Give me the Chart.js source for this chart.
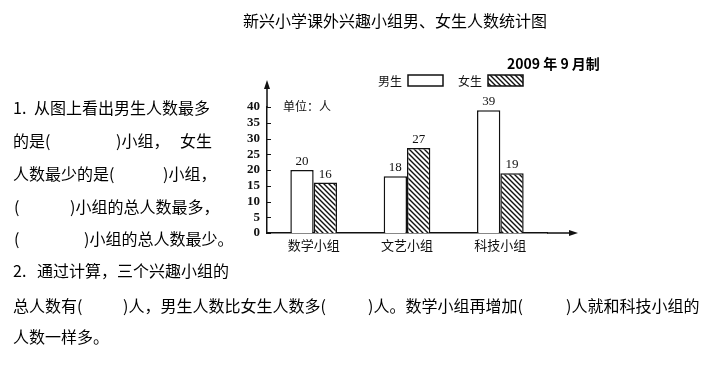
<!DOCTYPE html>
<html>
<head>
  <meta charset="utf-8">
  <title>新兴小学课外兴趣小组男、女生人数统计图</title>
  <script src="https://cdn.jsdelivr.net/npm/chart.js"></script>
  <style>
    body { margin: 0; background: #fff; }
    #wrap { position: relative; width: 715px; height: 388px; overflow: hidden; }
    #chart { position: absolute; left: 0; top: 0; }
    .t { position: absolute; font-family: "Noto Sans CJK SC", sans-serif; font-size: 16px;
         line-height: 16px; color: #000; white-space: pre; }
  </style>
</head>
<body>
<div id="wrap">
  <canvas id="chart" width="715" height="388"></canvas>

  <div class="t" style="left:243px; top:12px;">新兴小学课外兴趣小组男、女生人数统计图</div>
  <div class="t" style="left:507px; top:55px; font-size:14px; font-weight:bold;">2009 年 9 月制</div>

  <div class="t" style="left:13px; top:99px;">1.</div>
  <div class="t" style="left:34px; top:99px;">从图上看出男生人数最多</div>

  <div class="t" style="left:13px; top:132px;">的是(</div>
  <div class="t" style="left:116px; top:132px;">)小组，</div>
  <div class="t" style="left:180px; top:132px;">女生</div>

  <div class="t" style="left:13px; top:165px;">人数最少的是(</div>
  <div class="t" style="left:163px; top:165px;">)小组，</div>

  <div class="t" style="left:14px; top:198px;">(</div>
  <div class="t" style="left:70px; top:198px;">)小组的总人数最多，</div>

  <div class="t" style="left:14px; top:230px;">(</div>
  <div class="t" style="left:84px; top:230px;">)小组的总人数最少。</div>

  <div class="t" style="left:13px; top:262px;">2.</div>
  <div class="t" style="left:37px; top:262px;">通过计算，三个兴趣小组的</div>

  <div class="t" style="left:13px; top:297px;">总人数有(</div>
  <div class="t" style="left:123px; top:297px;">)人，男生人数比女生人数多(</div>
  <div class="t" style="left:368px; top:297px;">)人。数学小组再增加(</div>
  <div class="t" style="left:566px; top:297px;">)人就和科技小组的</div>

  <div class="t" style="left:13px; top:328px;">人数一样多。</div>
</div>

<script>
  // 数据
  const groups = ['数学小组', '文艺小组', '科技小组'];
  const boys = [20, 18, 39];
  const girls = [16, 27, 19];
  const seriesNames = ['男生', '女生'];
  const yMax = 40;
  const yStep = 5;
  const unitText = '单位：人';

  // 斜线填充
  function hatch() {
    const c = document.createElement('canvas');
    c.width = 5; c.height = 5;
    const g = c.getContext('2d');
    g.fillStyle = '#fff';
    g.fillRect(0, 0, 5, 5);
    g.strokeStyle = '#111';
    g.lineWidth = 1.4;
    g.beginPath();
    g.moveTo(-1, -1); g.lineTo(6, 6);
    g.moveTo(-1, 4); g.lineTo(1, 6);
    g.moveTo(4, -1); g.lineTo(6, 1);
    g.stroke();
    return g.createPattern(c, 'repeat');
  }
  const hatchFill = hatch();

  const cjk = '"Noto Sans CJK SC", sans-serif';
  const serif = '"Liberation Serif", "DejaVu Serif", serif';

  const extras = {
    id: 'extras',
    afterDraw(chart) {
      const ctx = chart.ctx;
      const a = chart.chartArea;
      const ys = chart.scales.y;
      ctx.save();
      ctx.strokeStyle = '#111';
      ctx.fillStyle = '#111';
      ctx.lineWidth = 1.5;

      // 坐标轴延长与箭头
      ctx.beginPath();
      ctx.moveTo(a.left, a.top); ctx.lineTo(a.left, 86);
      ctx.moveTo(a.right, a.bottom); ctx.lineTo(572, a.bottom);
      ctx.stroke();
      ctx.beginPath();
      ctx.moveTo(a.left, 80); ctx.lineTo(a.left - 3, 89); ctx.lineTo(a.left + 3, 89); ctx.closePath();
      ctx.fill();
      ctx.beginPath();
      ctx.moveTo(578, a.bottom); ctx.lineTo(569, a.bottom - 3); ctx.lineTo(569, a.bottom + 3); ctx.closePath();
      ctx.fill();

      // y 轴内侧刻度
      ctx.lineWidth = 1;
      ctx.beginPath();
      ys.ticks.forEach(t => {
        const py = Math.round(ys.getPixelForValue(t.value)) + 0.5;
        ctx.moveTo(a.left, py); ctx.lineTo(a.left + 4, py);
      });
      ctx.stroke();

      // 单位
      ctx.font = '12px ' + cjk;
      ctx.textBaseline = 'middle';
      ctx.textAlign = 'left';
      ctx.fillText(unitText, 283, ys.getPixelForValue(yMax) - 1);

      // 数值标注
      ctx.font = '13px ' + serif;
      ctx.textAlign = 'center';
      ctx.textBaseline = 'bottom';
      chart.data.datasets.forEach((ds, di) => {
        chart.getDatasetMeta(di).data.forEach((bar, i) => {
          ctx.fillText(String(ds.data[i]), bar.x, bar.y - 2);
        });
      });

      // 图例
      ctx.font = '12px ' + cjk;
      ctx.textBaseline = 'middle';
      ctx.textAlign = 'left';
      ctx.lineWidth = 1.5;
      ctx.fillText(seriesNames[0], 378, 81);
      ctx.fillStyle = '#fff';
      ctx.fillRect(408, 75, 35, 11);
      ctx.strokeRect(408, 75, 35, 11);
      ctx.fillStyle = '#111';
      ctx.fillText(seriesNames[1], 458, 81);
      ctx.fillStyle = hatchFill;
      ctx.fillRect(488, 75, 35, 11);
      ctx.strokeRect(488, 75, 35, 11);
      ctx.restore();
    }
  };

  new Chart(document.getElementById('chart'), {
    type: 'bar',
    data: {
      labels: groups,
      datasets: [
        { label: seriesNames[0], data: boys, backgroundColor: '#fff', borderColor: '#111', borderWidth: 1.5,
          categoryPercentage: 0.5, barPercentage: 1 },
        { label: seriesNames[1], data: girls, backgroundColor: hatchFill, borderColor: '#111', borderWidth: 1.5,
          categoryPercentage: 0.5, barPercentage: 1 }
      ]
    },
    options: {
      responsive: false,
      animation: false,
      devicePixelRatio: 1,
      layout: { padding: { left: 237, right: 168, top: 107, bottom: 135 } },
      plugins: { legend: { display: false }, tooltip: { enabled: false } },
      scales: {
        x: {
          afterFit(s) { s.height = 20; },
          grid: { display: false, drawTicks: false },
          border: { display: true, color: '#111', width: 1.5 },
          ticks: { color: '#111', padding: 4, font: { family: cjk, size: 13 } }
        },
        y: {
          min: 0, max: yMax,
          afterFit(s) { s.width = 30; },
          grid: { display: false, drawTicks: false },
          border: { display: true, color: '#111', width: 1.5 },
          ticks: { stepSize: yStep, autoSkip: false, color: '#111', padding: 7,
                   font: { family: serif, size: 13, weight: 'bold' } }
        }
      }
    },
    plugins: [extras]
  });
</script>
</body>
</html>
